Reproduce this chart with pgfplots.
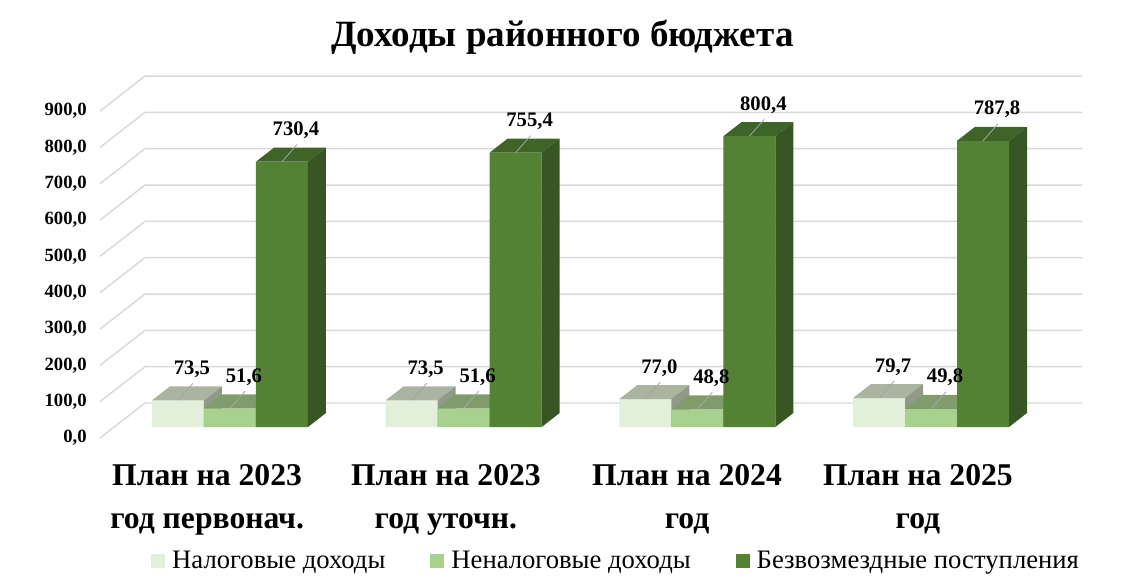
\documentclass[border=0pt]{standalone}
\usepackage{fontspec}
\setmainfont{Liberation Serif}
\usepackage{pgfplots}
\usepackage{pgfplotstable}
\pgfplotsset{compat=1.18}

\definecolor{lightF}{HTML}{E2EFDA}
\definecolor{lightT}{HTML}{AAB4A0}
\definecolor{lightS}{HTML}{8F9A88}
\definecolor{medF}{HTML}{A9D18E}
\definecolor{medT}{HTML}{809C6B}
\definecolor{medS}{HTML}{6B8A56}
\definecolor{darkF}{HTML}{548235}
\definecolor{darkT}{HTML}{3F6428}
\definecolor{darkS}{HTML}{375623}
\definecolor{gridc}{HTML}{D9D9D9}
\definecolor{leadc}{HTML}{A6A6A6}

\pgfplotstableread{
x v
0 73.5
1 73.5
2 77.0
3 79.7
}\tabA
\pgfplotstableread{
x v
0 51.6
1 51.6
2 48.8
3 49.8
}\tabB
\pgfplotstableread{
x v
0 730.4
1 755.4
2 800.4
3 787.8
}\tabC

% top and side faces of a 3D bar: #1 x centre, #2 value, #3 top colour, #4 side colour
\newcommand\face[4]{%
  \pgfmathsetmacro\fXl{#1-0.11125}%
  \pgfmathsetmacro\fXr{#1+0.11125}%
  \pgfmathsetmacro\fXlb{#1-0.11125+0.0770}%
  \pgfmathsetmacro\fXrb{#1+0.11125+0.0770}%
  \pgfmathsetmacro\fVb{#2+38.5}%
  \addplot[forget plot, fill=#3, draw=none] coordinates {(\fXl,#2) (\fXr,#2) (\fXrb,\fVb) (\fXlb,\fVb)};
  \addplot[forget plot, fill=#4, draw=none] coordinates {(\fXr,0) (\fXrb,38.5) (\fXrb,\fVb) (\fXr,#2)};
}
% data label with leader line
\newcommand\dl[3]{%
  \draw[leadc, line width=0.6pt] (axis cs:#1,#2) -- (axis cs:{#1+0.0642},{#2+46.8});
  \node[anchor=base, inner sep=0pt, font=\bfseries\fontsize{15.5}{18}\selectfont] at (axis cs:{#1+0.0599},{#2+71.6}) {#3};
}

\begin{document}
\begin{tikzpicture}
\useasboundingbox (0,0) rectangle (847.5pt,439.5pt);
\node[anchor=base, inner sep=0pt, font=\bfseries\fontsize{27.8}{32}\selectfont] at (421.9pt,404.25pt) {Доходы районного бюджета};
\begin{axis}[
  at={(75pt,111pt)}, anchor=south west,
  scale only axis, width=736.5pt, height=271.5pt,
  xmin=-0.5563, xmax=3.6462, ymin=-30.28, ymax=966.2,
  enlargelimits=false, clip=false,
  axis line style={draw=none}, tick style={draw=none}, major tick length=0pt,
  ytick={-30.28,69.72,169.72,269.72,369.72,469.72,569.72,669.72,769.72,869.72},
  yticklabels={{0,0},{100,0},{200,0},{300,0},{400,0},{500,0},{600,0},{700,0},{800,0},{900,0}},
  yticklabel style={font=\bfseries\fontsize{14}{16}\selectfont, xshift=-6.5pt},
  xtick={-0.098,0.924,1.956,2.944},
  xticklabels={{План на 2023\\год первонач.},{План на 2023\\год уточн.},{План на 2024\\год},{План на 2025\\год}},
  xticklabel style={font=\bfseries\fontsize{23.75}{32.25}\selectfont, align=center, anchor=north, yshift=-16.5pt},
  legend columns=3,
  legend style={at={(0.0519,-0.3384)}, anchor=west, draw=none, inner xsep=0pt, inner ysep=0pt,
    font=\fontsize{20}{24}\selectfont, nodes={inner sep=2pt},
    /tikz/every odd column/.append style={column sep=3.25pt},
    /tikz/every even column/.append style={column sep=31.75pt}},
  legend image code/.code={\fill[#1] (0pt,-5.25pt) rectangle (10.5pt,5.25pt);},
]
% back wall and side wall grid lines
\addplot[forget plot, gridc, line width=1.1pt] coordinates {(-0.5563,-30.28) (-0.3638,66.06) (3.6462,66.06)};
\addplot[forget plot, gridc, line width=1.1pt] coordinates {(-0.5563,69.72) (-0.3638,166.06) (3.6462,166.06)};
\addplot[forget plot, gridc, line width=1.1pt] coordinates {(-0.5563,169.72) (-0.3638,266.06) (3.6462,266.06)};
\addplot[forget plot, gridc, line width=1.1pt] coordinates {(-0.5563,269.72) (-0.3638,366.06) (3.6462,366.06)};
\addplot[forget plot, gridc, line width=1.1pt] coordinates {(-0.5563,369.72) (-0.3638,466.06) (3.6462,466.06)};
\addplot[forget plot, gridc, line width=1.1pt] coordinates {(-0.5563,469.72) (-0.3638,566.06) (3.6462,566.06)};
\addplot[forget plot, gridc, line width=1.1pt] coordinates {(-0.5563,569.72) (-0.3638,666.06) (3.6462,666.06)};
\addplot[forget plot, gridc, line width=1.1pt] coordinates {(-0.5563,669.72) (-0.3638,766.06) (3.6462,766.06)};
\addplot[forget plot, gridc, line width=1.1pt] coordinates {(-0.5563,769.72) (-0.3638,866.06) (3.6462,866.06)};
\addplot[forget plot, gridc, line width=1.1pt] coordinates {(-0.5563,869.72) (-0.3638,966.06) (3.6462,966.06)};

% series 1
\addplot[ybar, bar width=0.2225, bar shift=-0.2225, fill=lightF, draw=none] table[x=x,y=v] {\tabA};
\addlegendentry{Налоговые доходы}
\face{-0.2225}{73.5}{lightT}{lightS}
\face{0.7775}{73.5}{lightT}{lightS}
\face{1.7775}{77.0}{lightT}{lightS}
\face{2.7775}{79.7}{lightT}{lightS}
% series 2
\addplot[ybar, bar width=0.2225, bar shift=0, fill=medF, draw=none] table[x=x,y=v] {\tabB};
\addlegendentry{Неналоговые доходы}
\face{0}{51.6}{medT}{medS}
\face{1}{51.6}{medT}{medS}
\face{2}{48.8}{medT}{medS}
\face{3}{49.8}{medT}{medS}
% series 3
\addplot[ybar, bar width=0.2225, bar shift=0.2225, fill=darkF, draw=none] table[x=x,y=v] {\tabC};
\addlegendentry{Безвозмездные поступления}
\face{0.2225}{730.4}{darkT}{darkS}
\face{1.2225}{755.4}{darkT}{darkS}
\face{2.2225}{800.4}{darkT}{darkS}
\face{3.2225}{787.8}{darkT}{darkS}

% data labels
\dl{-0.2225}{73.5}{73,5}
\dl{0}{51.6}{51,6}
\dl{0.2225}{730.4}{730,4}
\dl{0.7775}{73.5}{73,5}
\dl{1}{51.6}{51,6}
\dl{1.2225}{755.4}{755,4}
\dl{1.7775}{77.0}{77,0}
\dl{2}{48.8}{48,8}
\dl{2.2225}{800.4}{800,4}
\dl{2.7775}{79.7}{79,7}
\dl{3}{49.8}{49,8}
\dl{3.2225}{787.8}{787,8}
\end{axis}
\end{tikzpicture}
\end{document}
